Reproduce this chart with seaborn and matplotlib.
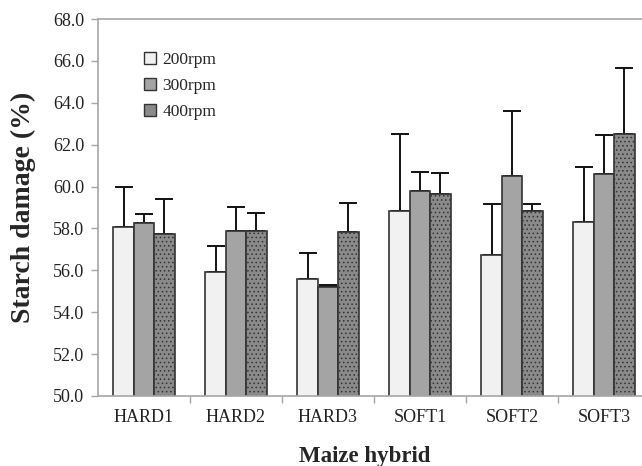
import matplotlib
matplotlib.use("Agg")
import matplotlib.pyplot as plt
import seaborn as sns
import pandas as pd
import numpy as np
from matplotlib.ticker import FixedLocator, FormatStrFormatter

# Starch damage by maize hybrid and mill speed
hybrids = ["HARD1", "HARD2", "HARD3", "SOFT1", "SOFT2", "SOFT3"]
speeds = ["200rpm", "300rpm", "400rpm"]
mean_200 = [58.07, 55.94, 55.59, 58.85, 56.73, 58.29]
mean_300 = [58.25, 57.88, 55.19, 59.80, 60.50, 60.60]
mean_400 = [57.75, 57.88, 57.85, 59.65, 58.85, 62.51]
err_200 = [1.90, 1.24, 1.25, 3.66, 2.44, 2.66]
err_300 = [0.45, 1.16, 0.11, 0.91, 3.12, 1.86]
err_400 = [1.65, 0.87, 1.35, 1.00, 0.30, 3.14]
y_ticks = [50.0, 52.0, 54.0, 56.0, 58.0, 60.0, 62.0, 64.0, 66.0, 68.0]

means = {"200rpm": mean_200, "300rpm": mean_300, "400rpm": mean_400}
errs = {"200rpm": err_200, "300rpm": err_300, "400rpm": err_400}

df = pd.DataFrame({
    "hybrid": np.repeat([hybrids], 3, axis=0).ravel(),
    "speed": np.repeat(speeds, len(hybrids)),
    "damage": mean_200 + mean_300 + mean_400,
})

sns.set_style("white")
plt.rcParams["font.family"] = ["Liberation Serif", "DejaVu Serif"]
plt.rcParams["hatch.linewidth"] = 0.6

fig = plt.figure(figsize=(6.42, 4.66), dpi=100)
# axes extends slightly past the right edge of the canvas
ax = fig.add_axes([98 / 642, 70 / 466, 552 / 642, 377 / 466])

face = {"200rpm": "#f1f1f1", "300rpm": "#a4a4a4", "400rpm": "#8a8a8a"}
hatch = {"200rpm": None, "300rpm": None, "400rpm": "...."}

sns.barplot(data=df, x="hybrid", y="damage", hue="speed", order=hybrids,
            hue_order=speeds, palette=face, width=0.667, gap=0,
            errorbar=None, ax=ax, edgecolor="#333333", linewidth=1.2,
            legend=True, zorder=2)

for cont, sp in zip(ax.containers, speeds):
    xs = [b.get_x() + b.get_width() / 2 for b in cont]
    for b in cont:
        if hatch[sp]:
            b.set_hatch(hatch[sp])
    ax.errorbar(xs, means[sp], yerr=[np.zeros(len(xs)), errs[sp]], fmt="none",
                ecolor="#111111", elinewidth=1.4, capsize=6.5, capthick=1.4,
                zorder=1)

ax.set_ylim(50, 68)
ax.set_xlim(-0.5, 5.5)
ax.yaxis.set_major_locator(FixedLocator(y_ticks))
ax.yaxis.set_major_formatter(FormatStrFormatter("%.1f"))
ax.xaxis.set_minor_locator(FixedLocator([0.5, 1.5, 2.5, 3.5, 4.5]))

for side in ["left", "bottom", "top"]:
    ax.spines[side].set_color("#a6a6a6")
    ax.spines[side].set_linewidth(1.2)
ax.spines["right"].set_visible(False)

ax.tick_params(axis="y", which="major", direction="out", length=5, width=1.0,
               color="#a6a6a6", labelsize=13, labelcolor="#222222", pad=5, left=True)
ax.tick_params(axis="x", which="major", length=0, labelsize=13,
               labelcolor="#222222", pad=9)
ax.tick_params(axis="x", which="minor", direction="out", length=5, width=1.0,
               color="#a6a6a6", bottom=True)

ax.set_xlabel("Maize hybrid", fontsize=16.5, fontweight="bold")
ax.xaxis.set_label_coords((365 - 98) / 552, -(446 - 396) / 377)
ax.set_ylabel("Starch damage (%)", fontsize=20, fontweight="bold")
ax.yaxis.set_label_coords(-(98 - 36) / 552, 0.5)

leg = ax.legend(loc="upper left", bbox_to_anchor=(0.07, 0.93), frameon=False,
                fontsize=12.5, handlelength=0.7, handleheight=0.7,
                handletextpad=0.4, labelspacing=0.55, borderaxespad=0)
for h in leg.legend_handles:
    h.set_edgecolor("#333333")
    h.set_linewidth(1.0)

fig.savefig("out.png", dpi=100)
